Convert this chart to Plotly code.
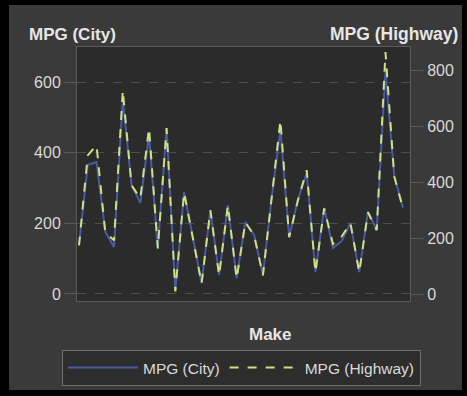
import plotly.graph_objects as go

make_index = list(range(38))
mpg_city = [139, 366, 374, 176, 133, 550, 309, 258, 451, 130,
            471, 9, 289, 162, 31, 238, 54, 252, 45, 204,
            167, 54, 272, 465, 162, 267, 343, 62, 244, 130,
            150, 201, 62, 233, 182, 630, 335, 244]
mpg_highway = [175, 496, 532, 221, 193, 728, 389, 343, 593, 164,
               593, 11, 364, 204, 39, 300, 68, 318, 57, 257,
               211, 68, 343, 621, 204, 336, 443, 79, 307, 180,
               207, 254, 79, 293, 229, 864, 421, 307]
city_ticks = [0, 200, 400, 600]
hwy_ticks = [0, 200, 400, 600, 800]

FONT = "Liberation Sans, Arial, sans-serif"
TXT = "#d9d9d9"

fig = go.Figure()
fig.add_trace(go.Scatter(x=make_index, y=mpg_city, name="MPG (City)", mode="lines",
                         line=dict(color="#4a5a9e", width=2)))
fig.add_trace(go.Scatter(x=make_index, y=mpg_highway, name="MPG (Highway)", mode="lines",
                         yaxis="y2", line=dict(color="#cfdf84", width=2, dash="dash")))

# plot area geometry (px)
L, R, T, B = 77, 410, 47, 301
W, H = 467, 396
pw, ph = R - L, B - T
def px(xp): return (xp - L) / pw
def py(yp): return (B - yp) / ph

fig.update_layout(
    width=W, height=H,
    margin=dict(l=L, r=W - R, t=T, b=H - B, pad=0, autoexpand=False),
    paper_bgcolor="#000000",
    plot_bgcolor="rgba(0,0,0,0)",
    font=dict(family=FONT, color=TXT, size=16),
    showlegend=True,
    xaxis=dict(range=[-0.23, 37.8], showticklabels=False, ticks="", showgrid=False,
               zeroline=False, showline=True, linecolor="#5a5a5a", mirror=True, automargin=False),
    yaxis=dict(range=[-20, 700], tickvals=city_ticks, ticks="outside", ticklen=12,
               tickcolor="#5a5a5a", showgrid=True, gridcolor="#4e4e4e", griddash="dash",
               zeroline=False, showline=True, linecolor="#5a5a5a", automargin=False,
               tickfont=dict(size=16, color=TXT)),
    yaxis2=dict(range=[-23, 882], tickvals=hwy_ticks, overlaying="y", side="right",
                ticks="outside", ticklen=13, tickcolor="#5a5a5a", showgrid=False,
                zeroline=False, showline=True, linecolor="#5a5a5a", automargin=False,
                tickfont=dict(size=16, color=TXT)),
    legend=dict(orientation="h", x=px(62), y=py(350), xanchor="left", yanchor="top",
                bgcolor="#2d2d2d", bordercolor="#6e6e6e", borderwidth=1,
                itemwidth=70, font=dict(size=15.5, color=TXT)),
    shapes=[
        dict(type="rect", xref="paper", yref="paper", x0=px(9), x1=px(462), y0=py(390), y1=py(5),
             fillcolor="#3a3a3a", line=dict(width=0), layer="below"),
        dict(type="rect", xref="paper", yref="paper", x0=0, x1=1, y0=0, y1=1,
             fillcolor="#2b2b2b", line=dict(width=0), layer="below"),
    ],
    annotations=[
        dict(text="<b>MPG (City)</b>", xref="paper", yref="paper", x=px(27), y=py(34),
             xanchor="left", yanchor="middle", showarrow=False, font=dict(size=17, color="#e6e6e6")),
        dict(text="<b>MPG (Highway)</b>", xref="paper", yref="paper", x=px(460), y=py(34),
             xanchor="right", yanchor="middle", showarrow=False, font=dict(size=17.5, color="#e6e6e6")),
        dict(text="<b>Make</b>", xref="paper", yref="paper", x=px(270), y=py(334),
             xanchor="center", yanchor="middle", showarrow=False, font=dict(size=17, color="#e6e6e6")),
    ],
)

fig.write_html("out.html", config={"displayModeBar": False},
               post_script="document.body.style.margin='0px';")
